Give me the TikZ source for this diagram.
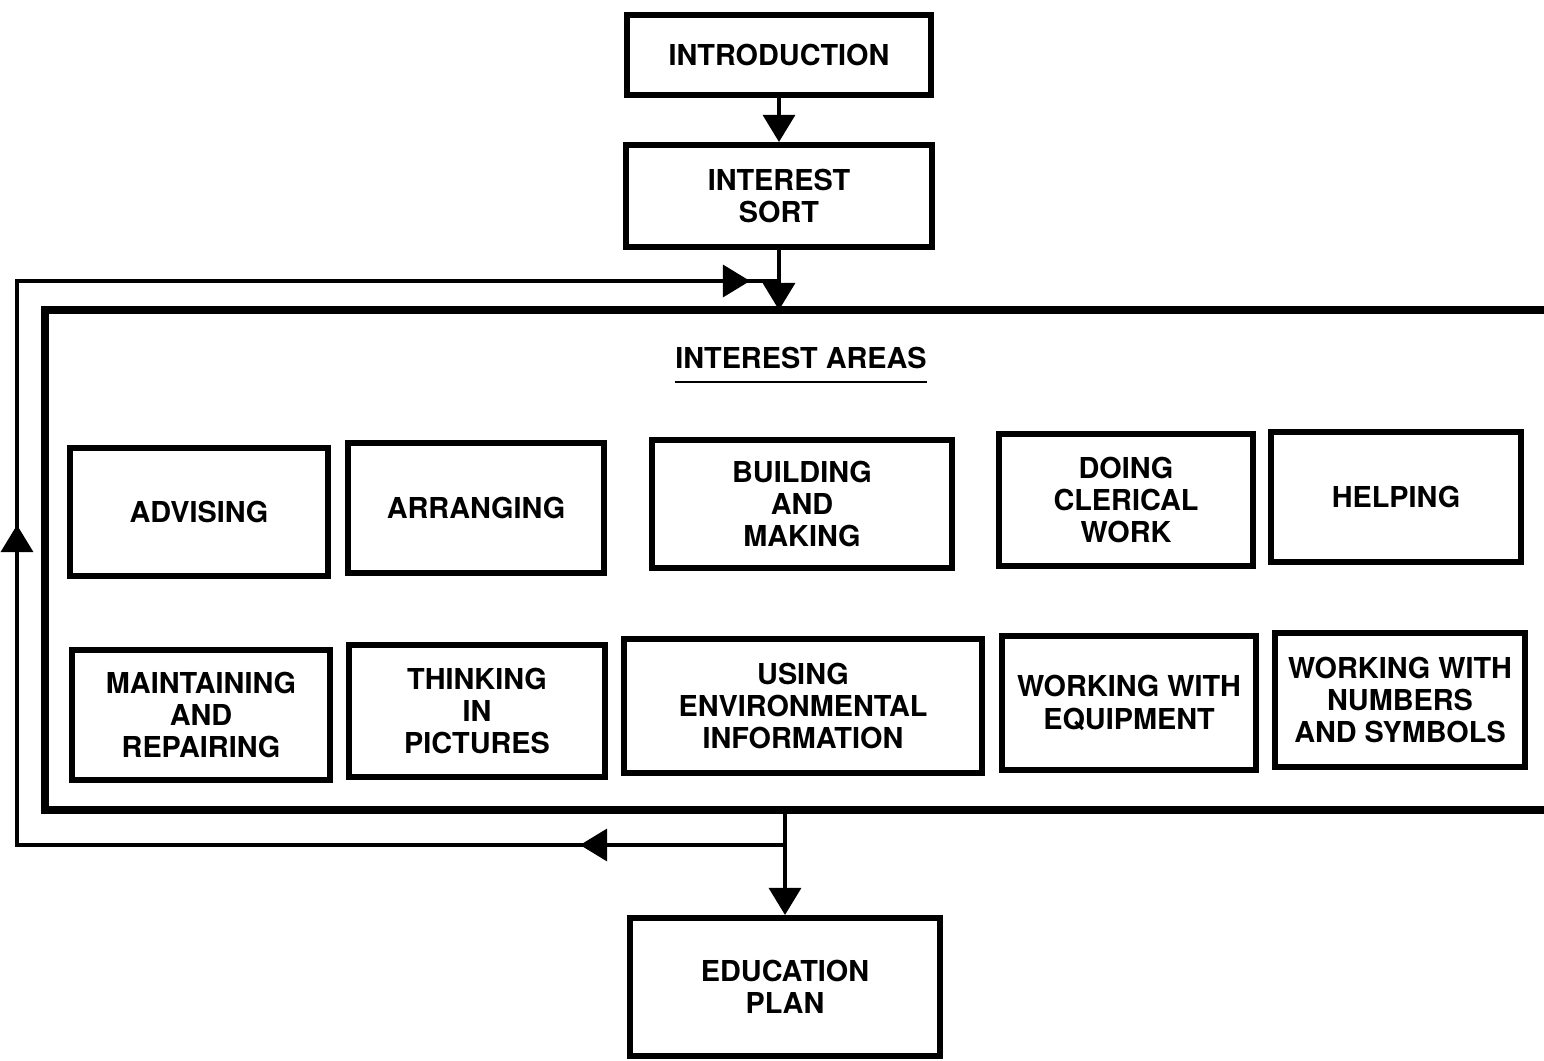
\documentclass[tikz,border=0pt]{standalone}
\usepackage{fontspec}
\setmainfont{TeX Gyre Heros}
\usetikzlibrary{arrows.meta}

\begin{document}
\begin{tikzpicture}[x=0.01cm,y=-0.01cm]

    \tikzset{box/.style={draw,line width=1.7pt,align=center,inner sep=0pt,
        font=\fontsize{8.2}{9.2}\selectfont\bfseries},
      conn/.style={line width=0.9pt},
      tip/.style={-{Triangle[width=0.32cm,length=0.27cm]}}}
    \useasboundingbox (0,0) rectangle (1544,1061);

    \node[box,minimum width=3.04cm,minimum height=0.80cm] (intro) at (779,55) {INTRODUCTION};
    \node[box,minimum width=3.05cm,minimum height=1.02cm] (sort) at (779,196) {INTEREST\\SORT};

    \node[inner sep=0pt,font=\fontsize{8.2}{9.2}\selectfont\bfseries] (title) at (801,358) {INTEREST AREAS};
    \draw[line width=0.7pt] ([yshift=-3.5pt]title.south west) -- ([yshift=-3.5pt]title.south east);

    \node[box,minimum width=2.58cm,minimum height=1.28cm] (advising) at (199,512) {ADVISING};
    \node[box,minimum width=2.56cm,minimum height=1.30cm] (arranging) at (476,508) {ARRANGING};
    \node[box,minimum width=2.99cm,minimum height=1.28cm] (building) at (802,504) {BUILDING\\AND\\MAKING};
    \node[box,minimum width=2.53cm,minimum height=1.31cm] (clerical) at (1126,500) {DOING\\CLERICAL\\WORK};
    \node[box,minimum width=2.49cm,minimum height=1.29cm] (helping) at (1396,497) {HELPING};

    \node[box,minimum width=2.58cm,minimum height=1.30cm] (maintaining) at (201,715) {MAINTAINING\\AND\\REPAIRING};
    \node[box,minimum width=2.56cm,minimum height=1.32cm] (thinking) at (477,711) {THINKING\\IN\\PICTURES};
    \node[box,minimum width=3.57cm,minimum height=1.33cm] (environ) at (803,706) {USING\\ENVIRONMENTAL\\INFORMATION};
    \node[box,minimum width=2.54cm,minimum height=1.34cm] (equipment) at (1129,703) {WORKING WITH\\EQUIPMENT};
    \node[box,minimum width=2.49cm,minimum height=1.34cm] (numbers) at (1400,700) {WORKING WITH\\NUMBERS\\AND SYMBOLS};

    \node[box,minimum width=3.09cm,minimum height=1.38cm] (plan) at (785,987) {EDUCATION\\PLAN};

    % frame round the interest areas, open at the right
    \draw[line width=2pt] (1560,310) -- (45,310) -- (45,810) -- (1560,810);

    \coordinate (ftop) at (779,310);
    \coordinate (fbot) at (785,810);
    \coordinate (jt) at (779,281);
    \coordinate (jb) at (785,845);
    \coordinate (lt) at (17,281);
    \coordinate (lb) at (17,845);
    \coordinate (m1) at (580,845);
    \coordinate (m2) at (17,525);
    \coordinate (m3) at (750,281);

    \begin{scope}[every path/.style={conn}]
        \draw[tip] (intro) -- (sort);
        \draw[tip] (sort) -- (ftop);
        \draw[tip] (fbot) -- (plan);

        \draw (jb) -- (lb) -- (lt) -- (jt);
        \draw[tip] (jb) -- (m1);
        \draw[tip] (lb) -- (m2);
        \draw[tip] (lt) -- (m3);
    \end{scope}
\end{tikzpicture}
\end{document}
